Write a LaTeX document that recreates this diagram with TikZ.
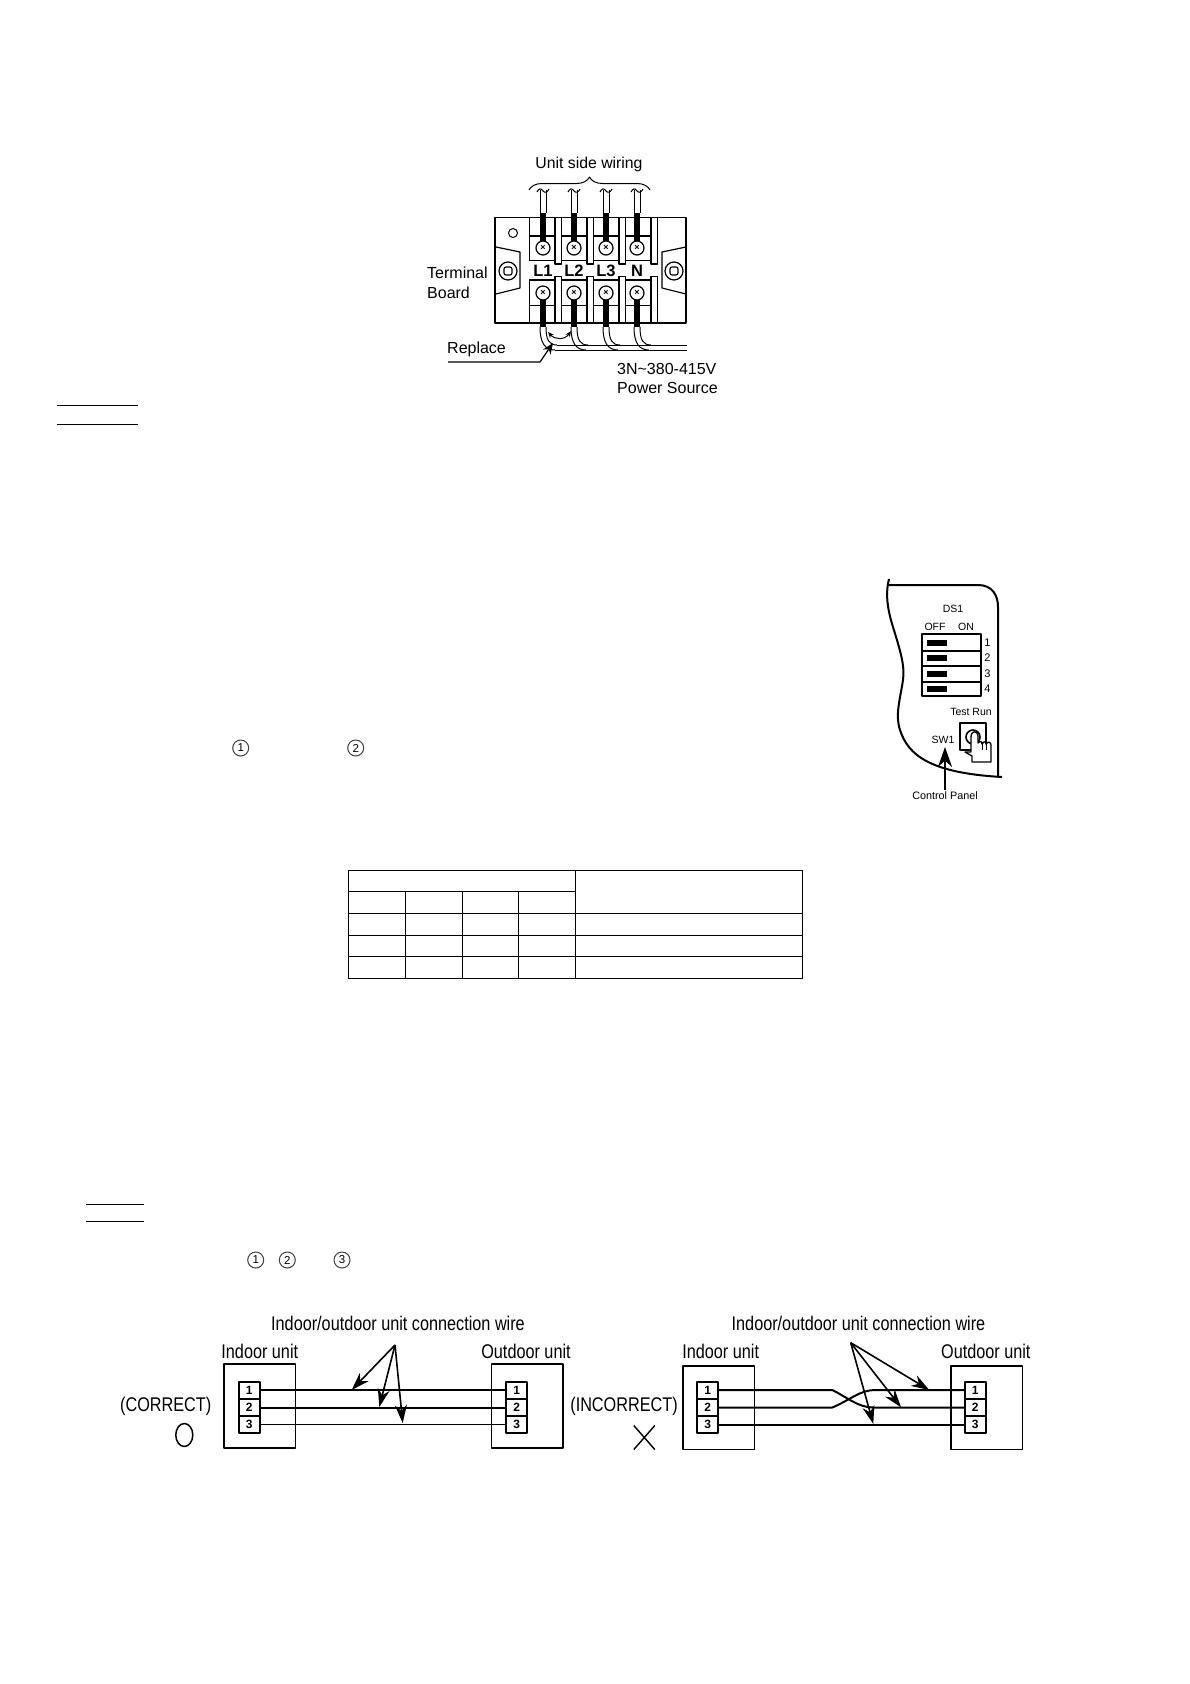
\documentclass[tikz,border=0pt]{standalone}
\usepackage{fontspec}
\setmainfont{Liberation Sans}
\newfontfamily\narrowfont[FakeStretch=0.82]{Liberation Sans}
\newcommand{\fsz}[1]{\fontsize{#1}{#1}\selectfont}
\usetikzlibrary{positioning,arrows.meta,decorations.pathreplacing,shapes.geometric}

\tikzset{
  label16/.style={inner sep=0pt,font=\fsz{16}},
  panellabel/.style={inner sep=0pt,font=\fsz{10.5}},
  narrowlabel/.style={inner sep=0pt,font=\narrowfont\fsz{19.8}},
  screw/.style={draw,circle,fill=white,line width=1.2pt,minimum size=14pt,inner sep=0pt,font=\bfseries\fsz{9}},
  clampscrew/.style={draw,circle,fill=white,line width=1.2pt,minimum size=18pt,inner sep=0pt},
  clampcross/.style={draw,rounded corners=2pt,line width=1.1pt,minimum size=8pt,inner sep=0pt},
  terminal/.style={draw,line width=2pt,fill=white,minimum width=21pt,minimum height=17pt,inner sep=0pt,font=\bfseries\fsz{12}},
  unitbox/.style={draw,line width=1.6pt,minimum width=71.5pt,minimum height=83.5pt,inner sep=0pt},
  heavywire/.style={line width=2pt},
  lightwire/.style={line width=1pt},
  pointer/.style={line width=1.6pt,-{Stealth[length=18pt,width=12pt]}},
  circlednum/.style={draw=black!75,circle,line width=1pt,minimum size=16pt,inner sep=0pt,font=\fsz{11.5}},
}

\begin{document}
\begin{tikzpicture}[x=1pt,y=-1pt,line join=round]
\path[use as bounding box,fill=white] (0,0) rectangle (1190,1684);

% underlined rules
\draw[line width=1pt] (57,405) -- (137.7,405) (57,424) -- (137.7,424);
\draw[line width=1pt] (86,1204.3) -- (143.7,1204.3) (86,1221) -- (143.7,1221);

% circled numbers
\node[circlednum] (circA) at (240.7,748) {1};
\node[circlednum] (circB) at (355.7,748) {2};
\node[circlednum] (circC) at (255.7,1260) {1};
\node[circlednum] (circD) at (287.3,1260) {2};
\node[circlednum] (circE) at (342,1260) {3};

% terminal board
\node[label16,font=\fsz{15.8}] (unitwiring) at (589,164) {Unit side wiring};
\draw[line width=1pt,decorate,decoration={brace,amplitude=13pt}] (529,190) -- (650,190);
\draw[line width=1.5pt] (495,217.3) rectangle (686,323);
\draw[line width=1.2pt] (529.3,217.3) -- (529.3,260.7) (529.3,280) -- (529.3,323);
\draw[line width=1.2pt] (529.3,236) -- (657,236) (529.3,260.7) -- (657,260.7);
\draw[line width=1.2pt] (529.3,280) -- (657,280) (529.3,305.7) -- (657,305.7);
\foreach \x in {555,587,619,651} {
  \draw[line width=1.2pt,fill=white] (\x,217.3) rectangle (\x+6.5,264);
  \draw[line width=1.2pt,fill=white] (\x,276.7) rectangle (\x+6.5,323);
}
\node[circle,draw,line width=1pt,minimum size=9pt,inner sep=0pt] (boardhole) at (513,233) {};
\draw[line width=1.2pt] (496,247) -- (520,252) -- (520,288) -- (496,294);
\draw[line width=1.2pt] (686,247) -- (662,252) -- (662,288) -- (686,294);
\node[clampscrew] (clampL) at (508,271) {};
\node[clampscrew] (clampR) at (674,271) {};
\node[clampcross] (crossL) at (clampL) {};
\node[clampcross] (crossR) at (clampR) {};

\foreach \x/\name/\txt in {543/a/L1,574/b/L2,606/c/L3,637/d/N} {
  \coordinate (top\name) at (\x,190);
  \coordinate (end\name) at (\x,213);
  \coordinate (low\name) at (\x,327);
  \draw[line width=1pt] (\x-3,190) -- (\x-3,213) (\x+3,190) -- (\x+3,213);
  \draw[line width=1pt] (\x-6,192) .. controls (\x-4,188) and (\x-2,188) .. (\x,191) .. controls (\x+2,193) and (\x+4,193) .. (\x+6,189);
  \draw[line width=6.5pt] (end\name) -- (\x,243);
  \draw[line width=6.5pt] (\x,298) -- (low\name);
  \node[screw] (su\name) at (\x,248) {×};
  \node[screw] (sl\name) at (\x,293) {×};
  \node[inner sep=0pt,font=\bfseries\fsz{16.5}] (txt\name) at (\x,271) {\txt};
  \draw[line width=1pt] (\x-3,327) .. controls (\x-3,343) and (\x+2,350) .. (\x+12,350);
  \draw[line width=1pt] (\x+3,327) .. controls (\x+3,340) and (\x+6,345) .. (\x+14,345);
}
\draw[line width=1pt] (555,350) -- (687,350) (557,345) -- (687,345);

\node[label16,anchor=west] (terminaltxt) at (427,273) {Terminal};
\node[label16,anchor=west] (boardtxt) at (427,292.5) {Board};
\node[label16,anchor=west] (replacetxt) at (447,349) {Replace};
\coordinate (replacestart) at (448,362);
\coordinate (replacebend) at (540,362);
\coordinate (replaceend) at (553,343);
\draw[line width=1.2pt,-{Stealth[length=11pt,width=9pt]}] (replacestart) -- (replacebend) -- (replaceend);
\draw[line width=1pt,{Stealth[length=6pt,width=5pt]}-{Stealth[length=6pt,width=5pt]}] (548,332) .. controls (555,340) and (565,340) .. (571,331);
\node[label16,anchor=west] (voltstxt) at (617,369) {3N\textasciitilde 380-415V};
\node[label16,anchor=west] (powertxt) at (617,388) {Power Source};

% control panel
\draw[line width=2pt] (889,579) .. controls (886,590) and (886,605) .. (893,627) .. controls (900,650) and (905,665) .. (903,680)
  .. controls (900,700) and (895,715) .. (900,730) .. controls (908,755) and (930,773) .. (1002,777);
\draw[line width=2pt] (888,585) -- (978,585) .. controls (992,585) and (998,595) .. (998,607) -- (998,777);
\node[panellabel] (ds1txt) at (953,609) {DS1};
\node[panellabel] (offtxt) at (935,627) {OFF};
\node[panellabel] (ontxt) at (966,627) {ON};
\draw[line width=1.6pt] (922,634) rectangle (981,696);
\draw[line width=1.6pt] (922,651) -- (981,651) (922,666) -- (981,666) (922,682) -- (981,682);
\foreach \y/\n in {643/1,658/2,674/3,689/4} {
  \fill (927,\y-3) rectangle (947,\y+3);
  \node[panellabel,font=\fsz{11}] (dip\n) at (987.5,\y) {\n};
}
\node[panellabel] (testrun) at (971,712) {Test Run};
\draw[line width=1.4pt] (960,723) rectangle (986,750);
\draw[line width=1.6pt] (973,737) circle (7);
\draw[line width=1.3pt,fill=white] (971,752) -- (971,737) .. controls (971,730) and (978,730) .. (978,737) -- (978,743)
  .. controls (980,741) and (982,741) .. (982,744) .. controls (984,741) and (986,741) .. (986,744) .. controls (988,741) and (991,742) .. (991,745)
  -- (991,762) -- (972,762) -- (972,756) -- (965,752) -- cycle;
\draw[line width=1pt] (982,744) -- (982,750) (986,744) -- (986,750);
\node[panellabel] (sw1txt) at (943,740) {SW1};
\node[panellabel,font=\fsz{10.8}] (controltxt) at (945,796) {Control Panel};
\coordinate (sw1tip) at (945,747);
\coordinate (sw1tail) at (945,790);
\draw[line width=1.2pt,-{Stealth[length=20pt,width=14pt]}] (sw1tail) -- (sw1tip);

% table
\draw[line width=1pt] (348.3,870.7) rectangle (802.3,978.3);
\draw[line width=1pt] (348.3,891.3) -- (575.3,891.3);
\foreach \y in {913.3,935.3,956.3} \draw[line width=1pt] (348.3,\y) -- (802.3,\y);
\draw[line width=1pt] (575.3,870.7) -- (575.3,978.3);
\foreach \x in {405.3,462.3,518.3} \draw[line width=1pt] (\x,891.3) -- (\x,978.3);

% correct wiring
\node[narrowlabel] (titleC) at (398,1323) {Indoor/outdoor unit connection wire};
\node[narrowlabel] (indoorC) at (259.8,1351.7) {Indoor unit};
\node[narrowlabel] (outdoorC) at (526,1351.7) {Outdoor unit};
\node[narrowlabel] (correct) at (165.7,1406.7) {(CORRECT)};
\node[draw,ellipse,line width=1.5pt,minimum width=17pt,minimum height=23pt,inner sep=0pt] (okmark) at (184.3,1435) {};
\node[unitbox] (inboxC) at (259.6,1406) {};
\node[unitbox] (outboxC) at (527.3,1406) {};
\node[terminal] (inC1) at (249.3,1390) {1};
\node[terminal] (inC2) at (249.3,1407.5) {2};
\node[terminal] (inC3) at (249.3,1424) {3};
\node[terminal] (outC1) at (516.8,1390) {1};
\node[terminal] (outC2) at (516.8,1407.5) {2};
\node[terminal] (outC3) at (516.8,1424) {3};
\draw[heavywire] (inC1) -- (outC1);
\draw[heavywire] (inC2) -- (outC2);
\draw[lightwire] (inC3) -- (outC3);
\coordinate (tagC) at (395,1345);
\coordinate (hitC1) at (351.7,1390);
\coordinate (hitC2) at (379.3,1407);
\coordinate (hitC3) at (402.7,1423);
\draw[pointer] (tagC) -- (hitC1);
\draw[pointer] (tagC) -- (hitC2);
\draw[pointer] (tagC) -- (hitC3);

% incorrect wiring
\node[narrowlabel] (titleI) at (858.5,1323) {Indoor/outdoor unit connection wire};
\node[narrowlabel] (indoorI) at (720.7,1351.7) {Indoor unit};
\node[narrowlabel] (outdoorI) at (985.8,1351.7) {Outdoor unit};
\node[narrowlabel] (incorrect) at (624,1406.7) {(INCORRECT)};
\draw[line width=1.4pt] (633.8,1425.5) -- (654.8,1449.5) (654.8,1425.5) -- (633.8,1449.5);
\node[unitbox] (inboxI) at (718.8,1407.8) {};
\node[unitbox] (outboxI) at (986.7,1407.8) {};
\node[terminal] (inI1) at (707.7,1390) {1};
\node[terminal] (inI2) at (707.7,1407.5) {2};
\node[terminal] (inI3) at (707.7,1424.5) {3};
\node[terminal] (outI1) at (975.3,1390) {1};
\node[terminal] (outI2) at (975.3,1407.5) {2};
\node[terminal] (outI3) at (975.3,1424.5) {3};
\draw[heavywire] (inI1) -- (832.3,1390) .. controls (845,1396) and (858,1407.5) .. (873,1407.5) -- (outI2);
\draw[heavywire] (inI2) -- (832.3,1407.5) .. controls (850,1400) and (860,1390) .. (875,1390) -- (outI1);
\draw[heavywire] (inI3) -- (outI3);
\coordinate (tagI) at (850.7,1342.7);
\coordinate (hitI1) at (929.3,1390);
\coordinate (hitI2) at (901,1407.3);
\coordinate (hitI3) at (873.3,1424);
\draw[pointer] (tagI) -- (hitI1);
\draw[pointer] (tagI) -- (hitI2);
\draw[pointer] (tagI) -- (hitI3);
\end{tikzpicture}
\end{document}
